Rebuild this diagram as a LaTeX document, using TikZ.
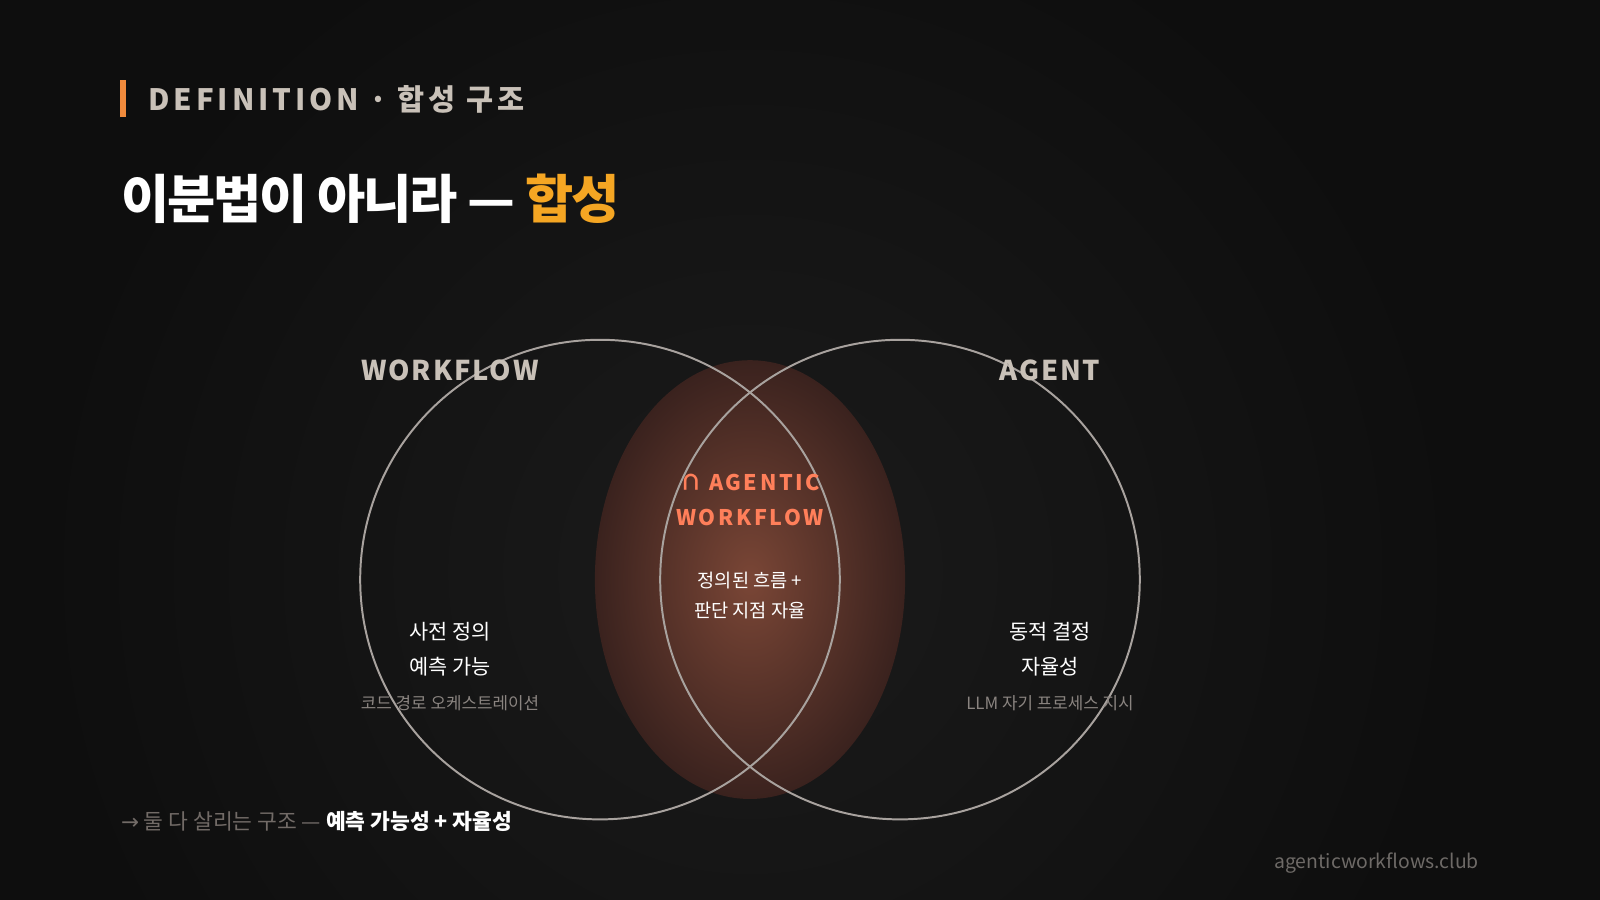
\documentclass[tikz,border=0pt]{standalone}
\usepackage{fontspec}
\setmainfont{Noto Sans CJK KR}
\newfontfamily\dv{DejaVu Sans}
\definecolor{bg}{HTML}{0E0E0E}
\definecolor{bgc}{HTML}{1B1B1B}
\definecolor{ringc}{HTML}{A8A29E}
\definecolor{lab}{HTML}{C9C1B8}
\definecolor{orng}{HTML}{F5A623}
\definecolor{coral}{HTML}{FF7F5A}
\definecolor{sub}{HTML}{8A8480}
\definecolor{barc}{HTML}{F08A3C}
\definecolor{ein}{HTML}{7A4636}
\definecolor{eout}{HTML}{3A221E}
\tikzset{
 lbl/.style={text=white,font=\fontsize{5.2pt}{8pt}\selectfont,anchor=center,inner sep=0},
 small/.style={text=sub,font=\fontsize{4.7pt}{6pt}\selectfont,anchor=center,inner sep=0},
 head/.style={text=lab,font=\fontsize{7.6pt}{9pt}\selectfont\bfseries\addfontfeature{LetterSpace=7},anchor=center,inner sep=0},
 ring/.style={draw=ringc,line width=0.55pt}
}
\begin{document}
\begin{tikzpicture}[x=0.01cm,y=-0.01cm]
\useasboundingbox (0,0) rectangle (1568,882);
\fill[bg] (0,0) rectangle (1568,882);
\shade[inner color=bgc,outer color=bg] (735,560) circle (700);
\shade[inner color=ein,outer color=eout] (735,568) ellipse (152 and 215);
\draw[ring] (588,568) circle (235);
\draw[ring] (882,568) circle (235);
\fill[barc] (118,78) rectangle (123,115);
\node[anchor=west,inner sep=0,text=lab,font=\fontsize{8.2pt}{10pt}\selectfont\bfseries\addfontfeature{LetterSpace=13}] (def) at (145,97) {DEFINITION · 합성 구조};
\node[anchor=west,inner sep=0,text=white,font=\fontsize{14.6pt}{18pt}\selectfont\bfseries\addfontfeature{LetterSpace=-4}] (title) at (118,195) {이분법이 아니라 — \textcolor{orng}{합성}};
\node[head] (wf) at (441,363) {WORKFLOW};
\node[head] (ag) at (1029,363) {AGENT};
\node[head,text=coral,font=\fontsize{6pt}{8pt}\selectfont\bfseries\addfontfeature{LetterSpace=12}] (i1) at (735,473) {∩ AGENTIC};
\node[head,text=coral,font=\fontsize{6pt}{8pt}\selectfont\bfseries\addfontfeature{LetterSpace=12}] (i2) at (735,507) {WORKFLOW};
\node[lbl] (c1) at (735,569) {정의된 흐름 +};
\node[lbl] (c2) at (735,598) {판단 지점 자율};
\node[lbl,font=\fontsize{5.8pt}{8pt}\selectfont] (l1) at (441,619) {사전 정의};
\node[lbl,font=\fontsize{5.8pt}{8pt}\selectfont] (l2) at (441,653) {예측 가능};
\node[small] (l3) at (441,689) {코드 경로 오케스트레이션};
\node[lbl,font=\fontsize{5.8pt}{8pt}\selectfont] (r1) at (1029,619) {동적 결정};
\node[lbl,font=\fontsize{5.8pt}{8pt}\selectfont] (r2) at (1029,653) {자율성};
\node[small] (r3) at (1029,689) {LLM 자기 프로세스 지시};
\node[anchor=west,inner sep=0,text=sub!120!white,font=\fontsize{6pt}{8pt}\selectfont] (foot) at (118,805) {{\dv →} 둘 다 살리는 구조 — \textcolor{white}{\bfseries 예측 가능성 + 자율성}};
\node[anchor=east,inner sep=0,text=sub!80!black,font=\fontsize{5.4pt}{8pt}\selectfont] (url) at (1450,846) {agenticworkflows.club};
\end{tikzpicture}
\end{document}
